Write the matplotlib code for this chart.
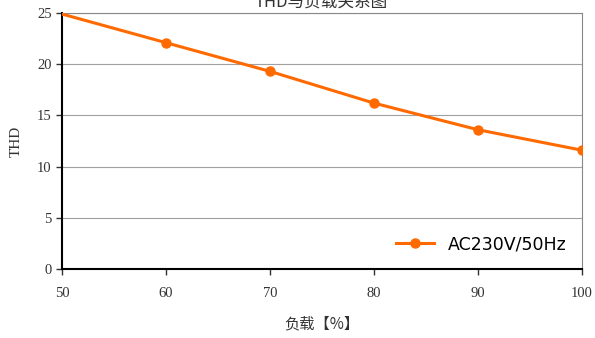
import matplotlib.pyplot as plt

load = [50, 60, 70, 80, 90, 100]
thd = [24.9, 22.1, 19.3, 16.2, 13.6, 11.6]
yticks = [0, 5, 10, 15, 20, 25]
series_name = 'AC230V/50Hz'

serif = ['Liberation Serif', 'DejaVu Serif']
cjk = ['Noto Sans CJK SC', 'DejaVu Sans']

fig = plt.figure(figsize=(5.95, 3.38), dpi=100)
ax = fig.add_axes([62/595, 1 - 269/338, 520/595, 256/338])

ax.plot(load, thd, color='#ff6a00', lw=2.2, marker='o', ms=6.5,
        markevery=[1, 2, 3, 4, 5], label=series_name, zorder=3)

ax.set_xlim(50, 100)
ax.set_ylim(0, 25)
ax.set_xticks(load)
ax.set_yticks(yticks)
ax.grid(axis='y', color='#a0a0a0', lw=0.8)
ax.set_axisbelow(True)

for s in ['top', 'right']:
    ax.spines[s].set_color('#888888')
for s in ['left', 'bottom']:
    ax.spines[s].set_color('black')
    ax.spines[s].set_linewidth(1.5)

ax.tick_params(length=4, width=1, labelsize=10.5, colors='#333333')
for lab in ax.get_xticklabels() + ax.get_yticklabels():
    lab.set_family(serif)
ax.tick_params(axis='x', pad=9)

ax.set_xlabel('负载【%】', family=cjk, fontsize=11, color='#333333', labelpad=11)
ax.set_ylabel('THD', family=serif, fontsize=11, color='#333333', labelpad=10)

fig.text(0.54, 0.995, 'THD与负载关系图', family=cjk, fontsize=12,
         color='#333333', ha='center', va='center')

leg = ax.legend(loc='lower right', frameon=False, fontsize=12.5,
                handlelength=2.2, borderaxespad=0.5, handletextpad=0.8)

fig.savefig('out.png', dpi=100)
